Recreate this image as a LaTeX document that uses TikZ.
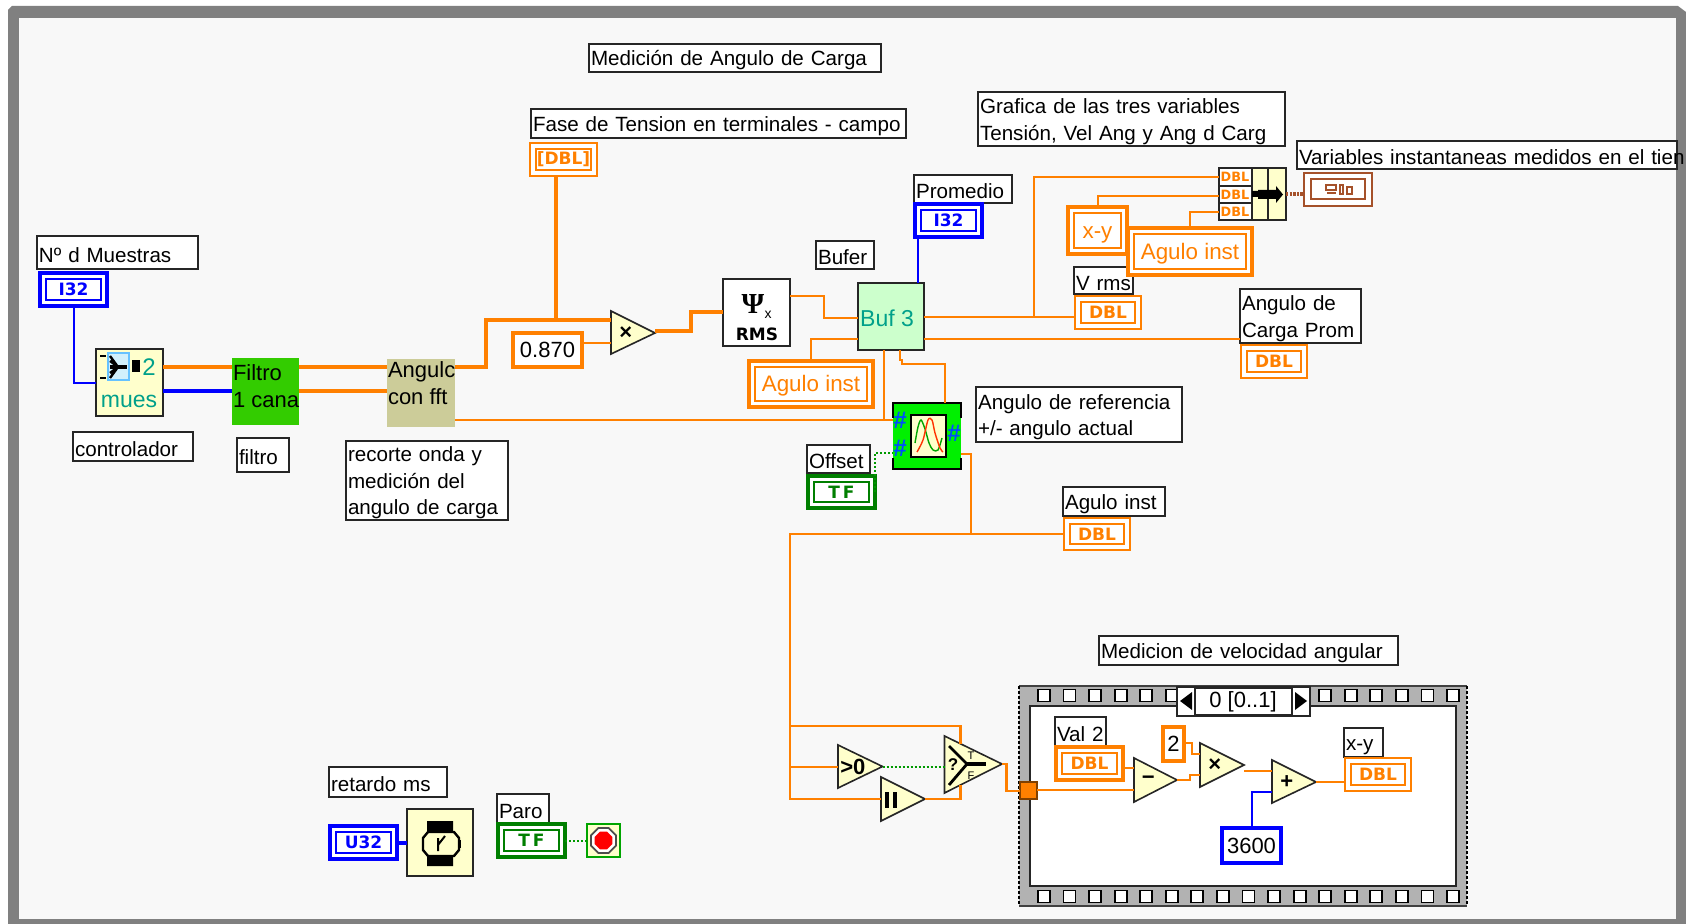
\documentclass[tikz,border=0pt]{standalone}
\usepackage{fontspec}
\usetikzlibrary{shapes.geometric}
\setmainfont{Liberation Sans}
\newfontfamily\tagf{DejaVu Sans}
\newfontfamily\serf{Liberation Serif}
\definecolor{wor}{HTML}{FF8000}
\definecolor{wbl}{HTML}{0000FF}
\definecolor{wgr}{HTML}{007F00}
\definecolor{brn}{HTML}{A5512A}
\definecolor{pale}{HTML}{FFFFCC}
\definecolor{bgc}{HTML}{F8F8F8}
\definecolor{teal2}{HTML}{00A08A}
\tikzset{
  every node/.style={inner sep=0pt,outer sep=0pt},
  wthin/.style={draw=wor,line width=1.2pt},
  wthick/.style={draw=wor,line width=2.4pt},
  bthin/.style={draw=wbl,line width=1pt},
  bthick/.style={draw=wbl,line width=2.4pt},
  gdot/.style={draw=wgr!80!green,line width=1pt,dash pattern=on 1pt off 1pt},
  lblbox/.style={draw=black!85,line width=.8pt,fill=white,align=left,inner xsep=1pt,inner ysep=0pt,font=\fontsize{10.3}{13.3}\selectfont},
  gatest/.style={draw=black!85,line width=.8pt,fill=pale},
  symb/.style={font=\bfseries\fontsize{11}{12}\selectfont},
  tagtxt/.style={font=\tagf\bfseries\fontsize{8.5}{10}\selectfont},
  bigtxt/.style={font=\fontsize{11.2}{13}\selectfont},
  blockbox/.style={draw=black!85,line width=1pt,fill=pale},
  nofr/.style={align=left,inner xsep=.5pt,font=\fontsize{11}{13.5}\selectfont},
}
\newcommand\lbl[6]{%
  \pgfmathsetmacro\wdv{(#4-#2-2)*0.5}\pgfmathsetmacro\htv{(#5-#3)*0.5}%
  \node[lblbox,text width=\wdv pt,minimum height=\htv pt] (#1) at ({(#2+#4)/2},{(#3+#5)/2}) {\rule{0pt}{10pt}#6};}
\newcommand\bx[6]{%
  \pgfmathsetmacro\wdv{(#4-#2)*0.5}\pgfmathsetmacro\htv{(#5-#3)*0.5}%
  \node[minimum width=\wdv pt,minimum height=\htv pt,#6] (#1) at ({(#2+#4)/2},{(#3+#5)/2}) {};}
% thin outer frame, heavier inner frame
\newcommand\indic[7]{%
  \pgfmathsetmacro\wdv{(#4-#2)*0.5}\pgfmathsetmacro\htv{(#5-#3)*0.5}%
  \node[draw=#6,line width=.8pt,fill=white,minimum width=\wdv pt,minimum height=\htv pt,text=#6,tagtxt] (#1) at ({(#2+#4)/2},{(#3+#5)/2}) {#7};
  \draw[#6,line width=1pt] ({#2+6},{#3+6}) rectangle ({#4-6},{#5-6});}
% heavy outer frame, thin inner frame
\newcommand\ctl[8][tagtxt]{%
  \pgfmathsetmacro\wdv{(#5-#3)*0.5}\pgfmathsetmacro\htv{(#6-#4)*0.5}%
  \node[draw=#7,line width=1.6pt,fill=white,minimum width=\wdv pt,minimum height=\htv pt,text=#7,#1] (#2) at ({(#3+#5)/2},{(#4+#6)/2}) {#8};
  \draw[#7,line width=.7pt] ({#3+6},{#4+6}) rectangle ({#5-6},{#6-6});}
\newcommand\kons[7]{%
  \pgfmathsetmacro\wdv{(#4-#2)*0.5}\pgfmathsetmacro\htv{(#5-#3)*0.5}%
  \node[draw=#6,line width=1.7pt,fill=white,minimum width=\wdv pt,minimum height=\htv pt,font=\fontsize{11}{13}\selectfont] (#1) at ({(#2+#4)/2},{(#3+#5)/2}) {#7};}
\newcommand\gate[7]{%
  \draw[gatest] (#2,#3) -- (#5,#6) -- (#2,#4) -- cycle;
  \coordinate (#1-b) at (#2,#6);
  \coordinate (#1) at (#5,#6);
  \node[symb] (#1-s) at ({(2*#2+#5)/3},#6) {#7};}
\begin{document}
\begin{tikzpicture}[x=0.5pt,y=-0.5pt]
\useasboundingbox (0,0) rectangle (1686,924);
% window
\fill[black!50] (8,10) -- (12,6) -- (1678,6) -- (1686,12) -- (1686,924) -- (8,924) -- cycle;
\fill[bgc] (19,18) rectangle (1676,919);
% --- labels
\lbl{ttl}{590}{44}{880}{72}{\mbox{Medición de Angulo de Carga}}
\lbl{lfase}{532}{109}{905}{138}{\mbox{Fase de Tension en terminales - campo}}
\lbl{lgraf}{979}{92}{1284}{146}{\mbox{Grafica de las tres variables}\\\mbox{Tensión, Vel Ang y Ang d Carg}}
\lbl{lvars}{1298}{141}{1676}{169}{\mbox{Variables instantaneas medidos en el tien}}
\lbl{lprom}{915}{175}{1011}{203}{Promedio}
\lbl{lbuf}{817}{241}{873}{269}{Bufer}
\lbl{lmue}{38}{236}{197}{269}{\mbox{Nº d Muestras}}
\lbl{lvrms}{1075}{267}{1132}{294}{\mbox{V rms}}
\lbl{langp}{1241}{289}{1360}{343}{Angulo de\\\mbox{Carga Prom}}
\lbl{lref}{977}{387}{1181}{442}{\mbox{Angulo de referencia}\\\mbox{+/- angulo actual}}
\lbl{lctrl}{74}{432}{192}{461}{controlador}
\lbl{lfil}{238}{438}{288}{472}{filtro}
\lbl{lrec}{347}{441}{507}{520}{\mbox{recorte onda y}\\\mbox{medición del}\\\mbox{angulo de carga}}
\lbl{loff}{808}{445}{869}{473}{Offset}
\lbl{lagu}{1064}{487}{1164}{516}{\mbox{Agulo inst}}
\lbl{lmed}{1100}{636}{1397}{665}{\mbox{Medicion de velocidad angular}}
\lbl{lret}{330}{767}{446}{797}{\mbox{retardo ms}}
\lbl{lparo}{498}{794}{548}{823}{Paro}
% --- terminals
\ctl{i32a}{40}{273}{107}{306}{wbl}{I32}
\ctl{i32b}{915}{204}{982}{237}{wbl}{I32}
\ctl{u32}{330}{826}{397}{859}{wbl}{U32}
\ctl{tfo}{808}{476}{875}{508}{wgr}{T\,F}
\ctl{tfp}{498}{824}{565}{857}{wgr}{T\,F}
\indic{dblt}{530}{143}{597}{176}{wor}{[DBL]}
\indic{dblv}{1075}{296}{1141}{329}{wor}{DBL}
\indic{dblp}{1241}{345}{1307}{378}{wor}{DBL}
\indic{dbla}{1064}{518}{1130}{550}{wor}{DBL}
\ctl[bigtxt]{agb}{749}{361}{873}{407}{wor}{\rule{0pt}{10pt}Agulo inst}
\ctl[bigtxt]{xy}{1068}{207}{1127}{254}{wor}{\rule{0pt}{10pt}x-y}
\ctl[bigtxt]{agc}{1128}{228}{1252}{275}{wor}{\rule{0pt}{10pt}Agulo inst}
\kons{c870}{513}{333}{582}{367}{wor}{0.870}
% --- blocks
\bx{ctrl}{96}{349}{163}{416}{blockbox}
\draw[draw=black,line width=.8pt] (100,356) -- (106,356) (100,378) -- (106,378);
\fill[cyan!18] (108,353) rectangle (129,380);
\draw[blue!40!cyan!60,line width=.8pt] (108,353) rectangle (129,380);
\draw[black,line width=1.2pt] (110,356) -- (118,367) -- (110,378) (110,361) -- (118,367) (110,373) -- (118,367);
\draw[black,line width=2.2pt] (110,367) -- (127,367);
\fill[black] (132,360) rectangle (140,372);
\node[text=teal2,font=\fontsize{12}{13}\selectfont] (ctrl2) at (149,367) {2};
\node[text=teal2,font=\fontsize{11.5}{13}\selectfont] (ctrlm) at (129,401) {mues};
\bx{filt}{232}{358}{299}{425}{fill={rgb,255:red,51;green,204;blue,0}}
\node[nofr,anchor=west] (filtt) at (232,386) {\mbox{Filtro}\\\mbox{1 cana}};
\bx{ang}{387}{359}{455}{427}{fill={rgb,255:red,204;green,204;blue,153}}
\node[nofr,anchor=west] (angt) at (387,383) {\mbox{Angulc}\\\mbox{con fft}};
\bx{rms}{723}{279}{790}{346}{draw=black!85,line width=1pt,fill=white}
\node[font=\serf\bfseries\fontsize{14.5}{15}\selectfont] (rmsp) at (753,304) {Ψ};
\node[font=\fontsize{7}{8}\selectfont] (rmsx) at (768,315) {x};
\node[font=\tagf\bfseries\fontsize{8.5}{10}\selectfont] (rmst) at (757,334) {RMS};
\bx{buf}{858}{283}{924}{350}{draw=black!85,line width=1pt,fill={rgb,255:red,204;green,255;blue,204}}
\node[text=teal2,font=\fontsize{11.5}{13}\selectfont] (buft) at (887,318) {Buf 3};
% chart block
\bx{gbox}{893}{403}{961}{469}{fill={rgb,255:red,0;green,240;blue,0}}
\draw[black,line width=1pt] (893,418) -- (893,403) -- (961,403) -- (961,418) (893,458) -- (893,469) -- (961,469) -- (961,458);
\node[font=\bfseries\fontsize{12}{12}\selectfont,text=blue!70!cyan] (gh1) at (900,420) {\#};
\node[font=\bfseries\fontsize{12}{12}\selectfont,text=blue!70!cyan] (gh2) at (900,448) {\#};
\node[font=\bfseries\fontsize{12}{12}\selectfont,text=blue!70!cyan] (gh3) at (954,433) {\#};
\bx{ginn}{911}{415}{946}{457}{draw=black,line width=1pt,fill=pale}
\draw[wgr!70!green,line width=.7pt] plot[smooth] coordinates {(915,443) (918,427) (921,420) (925,429) (929,443) (933,450) (938,450) (942,438)};
\draw[red!60!orange,line width=.7pt] plot[smooth] coordinates {(917,452) (923,440) (928,420) (932,420) (935,433) (940,448) (943,452)};
% merge signals
\bx{bun}{1219}{168}{1286}{220}{draw=black!85,line width=1pt,fill=pale}
\bx{bun1}{1219}{168}{1252}{186}{draw=black!85,line width=.7pt,fill=white}
\bx{bun2}{1219}{186}{1252}{203}{draw=black!85,line width=.7pt,fill=white}
\bx{bun3}{1219}{203}{1252}{220}{draw=black!85,line width=.7pt,fill=white}
\node[text=wor,font=\tagf\bfseries\fontsize{6.4}{7}\selectfont] (bt1) at (1235,177) {DBL};
\node[text=wor,font=\tagf\bfseries\fontsize{6.4}{7}\selectfont] (bt2) at (1235,195) {DBL};
\node[text=wor,font=\tagf\bfseries\fontsize{6.4}{7}\selectfont] (bt3) at (1235,212) {DBL};
\draw[black!85,line width=.9pt] (1268,168) -- (1268,220);
\fill[black] (1252,191) rectangle (1258,197) (1258,190) rectangle (1276,199);
\fill[black] (1276,186) -- (1283,194.5) -- (1276,203) -- cycle;
% waveform indicator
\bx{wav}{1304}{173}{1372}{206}{draw=brn,line width=1pt,fill=white}
\draw[brn,line width=1pt] (1311,179) rectangle (1365,199);
\draw[brn,line width=.8pt] (1326,185) rectangle (1336,190) (1327,193) -- (1336,193) (1340,185) rectangle (1343,194) (1347,187) rectangle (1352,194);
% timing
\bx{wait}{407}{809}{473}{876}{blockbox}
\fill[black] (427,821) rectangle (453,832) (427,856) rectangle (453,866);
\draw[black,line width=1.2pt,fill=pale] (428,832) -- (454,832) -- (459,838) -- (459,850) -- (454,856) -- (428,856) -- (423,850) -- (423,838) -- cycle;
\draw[black,line width=1pt] (438,838) -- (438,851) (438,845) -- (445,836);
\fill[black] (459,840) rectangle (461,848);
\bx{stop}{587}{824}{620}{857}{draw=wgr!70!green,line width=.7pt,fill=pale}
\node[regular polygon,regular polygon sides=8,minimum size=13.5pt,draw=black!70,line width=.9pt,fill=white] (stopo) at (603.5,840.5) {};
\node[regular polygon,regular polygon sides=8,minimum size=9.5pt,fill=red] (stopi) at (603.5,840.5) {};
% --- sequence structure
\fill[black!30] (1019,686) rectangle (1467,906);
\draw[black!75,line width=1pt] (1019,686) -- (1467,686) (1019,906) -- (1467,906);
\draw[black,line width=1pt,dash pattern=on 1.5pt off 1pt] (1019,686) -- (1019,906) (1467,686) -- (1467,906);
\bx{seq}{1030}{706}{1456}{886}{draw=black!85,line width=1pt,fill=white}
\foreach \i in {0,...,16}{
  \pgfmathsetmacro\xx{1044+25.56*\i}
  \draw[black,line width=.9pt,fill=white] ({\xx-6},890.5) rectangle ({\xx+6},902.5);
}
\foreach \i in {0,...,5,11,12,...,16}{
  \pgfmathsetmacro\xx{1044+25.56*\i}
  \draw[black,line width=.9pt,fill=white] ({\xx-6},689.5) rectangle ({\xx+6},701.5);
}
\bx{sel}{1177}{687}{1310}{716}{draw=black!85,line width=.8pt,fill=white}
\bx{selm}{1195}{688}{1292}{715}{draw=black!85,line width=.7pt,fill=white}
\node[font=\fontsize{11}{13}\selectfont] (selt) at (1243,702) {0 [0..1]};
\fill[black] (1180,701) -- (1192,692) -- (1192,710) -- cycle;
\fill[black] (1307,701) -- (1295,692) -- (1295,710) -- cycle;
\lbl{lval}{1056}{717}{1105}{746}{\mbox{Val 2}}
\lbl{lxy}{1345}{728}{1382}{757}{x-y}
\ctl{dblval}{1056}{747}{1123}{780}{wor}{DBL}
\indic{dblxy}{1345}{758}{1411}{791}{wor}{DBL}
\kons{c2}{1163}{727}{1184}{761}{wor}{2}
\kons{c3600}{1222}{828}{1281}{863}{wbl}{3600}
\bx{tun}{1020}{782}{1037}{799}{draw=black!50!wor,line width=.7pt,fill=wor}
% --- gates
\gate{mul}{611}{311}{354}{655}{333}{×}
\gate{gt}{838}{745}{788}{882.5}{766.5}{\fontsize{11}{12}\selectfont >0}
\gate{inv}{881}{777}{821}{925}{799}{}
\draw[black,line width=2pt] (887,792) -- (887,808) (895,792) -- (895,808);
\gate{sl}{944.5}{736}{793}{1002}{764}{}
\draw[black,line width=1.4pt] (949,746) -- (967,764) -- (949,785);
\draw[black,line width=2pt] (967,764) -- (986,764);
\node[font=\bfseries\fontsize{8.5}{9}\selectfont] (slq) at (953,765) {?};
\node[font=\fontsize{5.5}{6}\selectfont] (slt) at (971,756) {T};
\node[font=\fontsize{5.5}{6}\selectfont] (slf) at (971,776) {F};
\gate{mns}{1134}{758}{802}{1177}{780}{−}
\gate{mu2}{1200}{743}{787}{1244}{765}{×}
\gate{pls}{1272}{760}{803}{1316}{782}{+}
% --- wires
\draw[bthin] (i32a.south) |- (ctrl.west |- 0,383);
\draw[wthick] (ctrl.east |- 0,367) -- (filt.west |- 0,367);
\draw[bthick] (ctrl.east |- 0,391) -- (filt.west |- 0,391);
\draw[wthick] (filt.east |- 0,367) -- (ang.west |- 0,367);
\draw[wthick] (filt.east |- 0,391) -- (ang.west |- 0,391);
\draw[wthick] (ang.east |- 0,367) -| (486,320) -- (mul-b |- 0,320);
\draw[wthick] (556,0 |- dblt.south) -- (556,320);
\draw[wthin] (c870.east |- 0,343) -- (mul-b |- 0,343);
\draw[wthick] (mul |- 0,331) -| (691,312) -- (rms.west |- 0,312);
\draw[wthin] (rms.east |- 0,296) -| (824,318) -- (buf.west |- 0,318);
\draw[wthin] (811,0 |- agb.north) |- (buf.west |- 0,339);
\draw[wthin] (ang.east |- 0,420) -- (gbox.west |- 0,420);
\draw[wthin] (884,0 |- buf.south) -- (884,420);
\draw[wthin] (900,0 |- buf.south) -- (900,360) -- (902,360) |- (902,364) -| (945,0 |- gbox.north);
\draw[bthin] (917.5,0 |- i32b.south) -- (917.5,0 |- buf.north);
\draw[wthin] (buf.east |- 0,317) -- (dblv.west |- 0,317);
\draw[wthin] (1034,317) |- (bun.west |- 0,177);
\draw[wthin] (buf.east |- 0,339) -- (langp.west |- 0,339);
\draw[wthin] (1098,0 |- xy.north) |- (bun.west |- 0,196);
\draw[wthin] (1190,0 |- agc.north) |- (bun.west |- 0,212);
\draw[brn,line width=2pt,dash pattern=on 1.2pt off .6pt] (bun.east |- 0,194) -- (wav.west |- 0,194);
\draw[wthin] (gbox.east |- 0,454) -| (971,534);
\draw[gdot] (tfo.east |- 0,492) |- (gbox.west |- 0,453);
\draw[wthin] (dbla.west |- 0,534) -| (790,799) -- (inv-b |- 0,799);
\draw[wthin] (790,726) -| (960.5,744);
\draw[wthin] (790,767) -- (gt-b |- 0,767);
\draw[wthin] (inv) -| (960.5,785);
\draw[gdot] (gt) -- (sl-b |- 0,766.5);
\draw[wthin] (sl) -| (1006.5,791) -- (tun.west |- 0,791);
\draw[wthin] (tun.east |- 0,790) -- (mns-b |- 0,790);
\draw[wthin] (dblval.east |- 0,768) -- (mns-b |- 0,768);
\draw[wthin] (c2.east |- 0,743) -| (1192,754) -- (mu2-b |- 0,754);
\draw[wthin] (mns) -| (1190,775) -- (mu2-b |- 0,775);
\draw[wthin] (mu2 |- 0,771) -- (pls-b |- 0,771);
\draw[bthin] (c3600.north) |- (pls-b |- 0,792);
\draw[wthin] (pls) -- (dblxy.west |- 0,782);
\draw[bthick] (u32.east |- 0,843) -- (wait.west |- 0,843);
\draw[gdot] (tfp.east |- 0,841) -- (stop.west |- 0,841);
\end{tikzpicture}
\end{document}
